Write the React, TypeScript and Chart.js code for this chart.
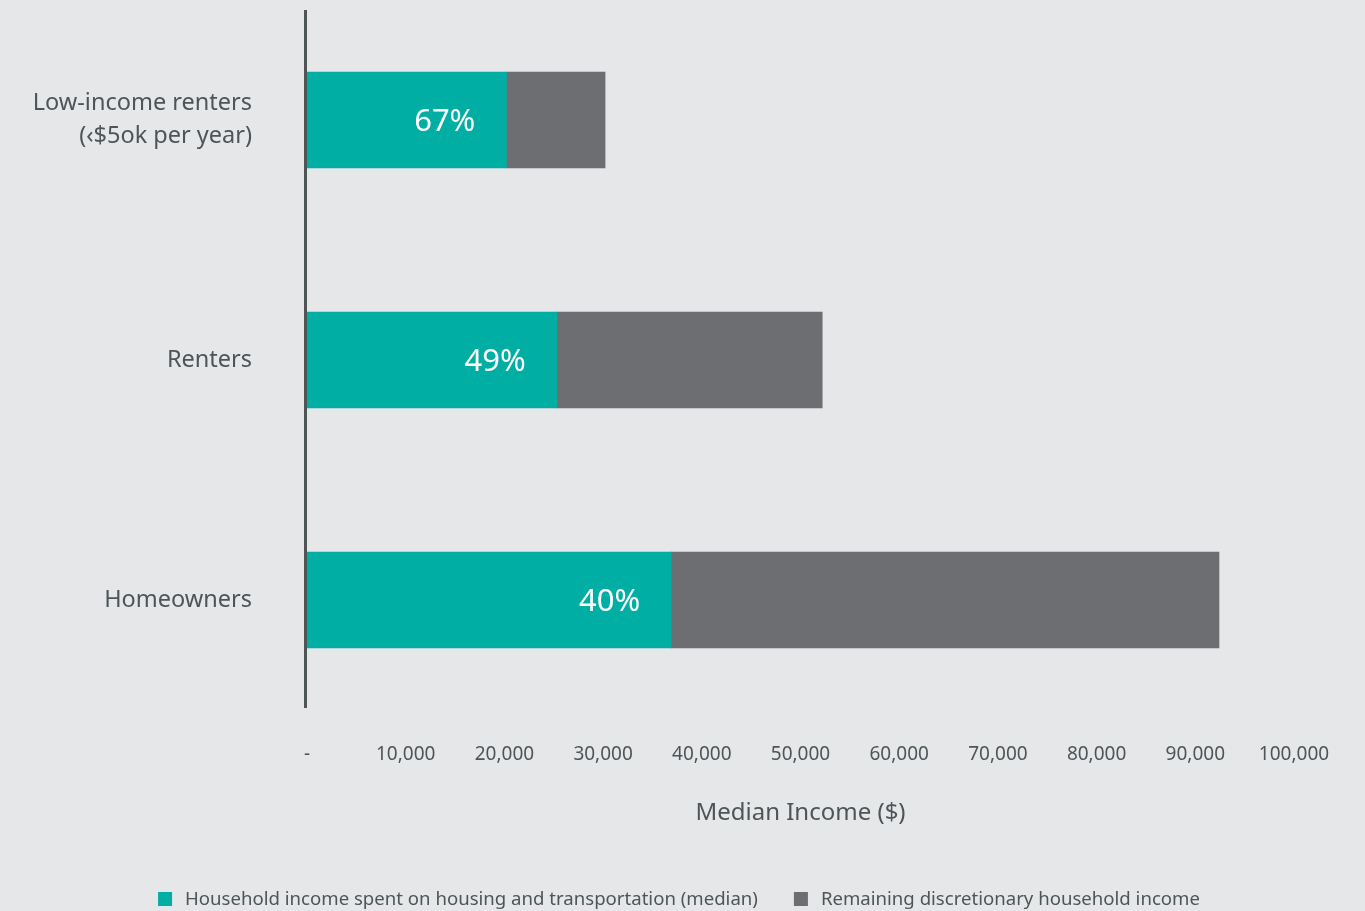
import React, { useEffect, useRef } from "react";
import { Chart, registerables } from "chart.js";

Chart.register(...registerables);

const categories: (string | string[])[] = [
  ["Low-income renters", "(‹$5ok per year)"],
  "Renters",
  "Homeowners",
];
const spentValues = [20200, 25300, 36900];
const remainingValues = [10000, 26900, 55500];
const shareLabels = ["67%", "49%", "40%"];
const seriesNames = [
  "Household income spent on housing and transportation (median)",
  "Remaining discretionary household income",
];
const axisTitle = "Median Income ($)";

const FONT = "'Noto Sans', 'Open Sans', sans-serif";
const TEXT = "#4d5558";
const TEAL = "#00aea3";
const GRAY = "#6d6e71";
const BG = "#e6e7e9";

export default function App() {
  const ref = useRef<HTMLCanvasElement | null>(null);
  useEffect(() => {
    if (!ref.current) return;
    const axisLine = {
      id: "axisLine",
      afterDatasetsDraw(chart: any) {
        const { ctx, chartArea } = chart;
        ctx.save();
        ctx.strokeStyle = "#4d5557";
        ctx.lineWidth = 3;
        ctx.beginPath();
        ctx.moveTo(chartArea.left - 1.5, chartArea.top + 10);
        ctx.lineTo(chartArea.left - 1.5, chartArea.bottom - 12);
        ctx.stroke();
        ctx.restore();
      },
    };
    const barLabels = {
      id: "barLabels",
      afterDatasetsDraw(chart: any) {
        const { ctx } = chart;
        const meta = chart.getDatasetMeta(0);
        ctx.save();
        ctx.fillStyle = "#ffffff";
        ctx.font = `31px ${FONT}`;
        ctx.textAlign = "right";
        ctx.textBaseline = "middle";
        meta.data.forEach((el: any, i: number) => {
          ctx.fillText(shareLabels[i], el.x - 31, el.y + 2);
        });
        ctx.restore();
      },
    };
    const customLegend = {
      id: "customLegend",
      afterDraw(chart: any) {
        const { ctx } = chart;
        ctx.save();
        ctx.font = `18.6px ${FONT}`;
        ctx.textBaseline = "middle";
        ctx.textAlign = "left";
        const box = 14;
        const gapText = 13;
        const gapItem = 36;
        const widths = chart.data.datasets.map(
          (d: any) => box + gapText + ctx.measureText(d.label).width
        );
        const total = widths.reduce((a: number, b: number) => a + b, 0) + gapItem * (widths.length - 1);
        let x = 679 - total / 2;
        const y = 899;
        chart.data.datasets.forEach((d: any, i: number) => {
          ctx.fillStyle = d.backgroundColor;
          ctx.fillRect(x, y - box / 2, box, box);
          ctx.fillStyle = TEXT;
          ctx.fillText(d.label, x + box + gapText, y + 1);
          x += widths[i] + gapItem;
        });
        ctx.restore();
      },
    };
    const chart = new Chart(ref.current, {
      type: "bar",
      data: {
        labels: categories,
        datasets: [
          {
            label: seriesNames[0],
            data: spentValues,
            backgroundColor: TEAL,
            barThickness: 96,
          },
          {
            label: seriesNames[1],
            data: remainingValues,
            backgroundColor: GRAY,
            barThickness: 96,
          },
        ],
      },
      options: {
        indexAxis: "y",
        animation: false,
        responsive: false,
        layout: { padding: { left: 0, right: 71, top: 0, bottom: 83 } },
        scales: {
          x: {
            stacked: true,
            min: 0,
            max: 100000,
            grid: { display: false },
            border: { display: false },
            ticks: {
              stepSize: 10000,
              color: TEXT,
              font: { family: FONT, size: 19 },
              padding: 15,
              maxRotation: 0,
              callback: (v: any) => (Number(v) === 0 ? "-" : Number(v).toLocaleString("en-US")),
            },
            title: {
              display: true,
              text: axisTitle,
              color: TEXT,
              font: { family: FONT, size: 24 },
              padding: { top: 20, bottom: 0 },
            },
            afterFit: (s: any) => {
              s.height = 108;
              s.paddingLeft = 0;
              s.paddingRight = 0;
            },
          },
          y: {
            stacked: true,
            grid: { display: false, drawTicks: false },
            border: { display: false },
            ticks: {
              color: TEXT,
              font: { family: FONT, size: 23.5, lineHeight: 1.38 },
              padding: 55,
            },
            afterFit: (s: any) => {
              s.width = 307;
              s.paddingTop = 0;
              s.paddingBottom = 0;
            },
          },
        },
        plugins: {
          legend: { display: false },
          tooltip: { enabled: false },
        },
      },
      plugins: [axisLine, barLabels, customLegend],
    });
    return () => chart.destroy();
  }, []);
  return (
    <div
      style={{
        position: "absolute",
        left: 0,
        top: 0,
        width: 1365,
        height: 911,
        background: BG,
      }}
    >
      <canvas ref={ref} width={1365} height={911} style={{ width: 1365, height: 911, display: "block" }} />
    </div>
  );
}
